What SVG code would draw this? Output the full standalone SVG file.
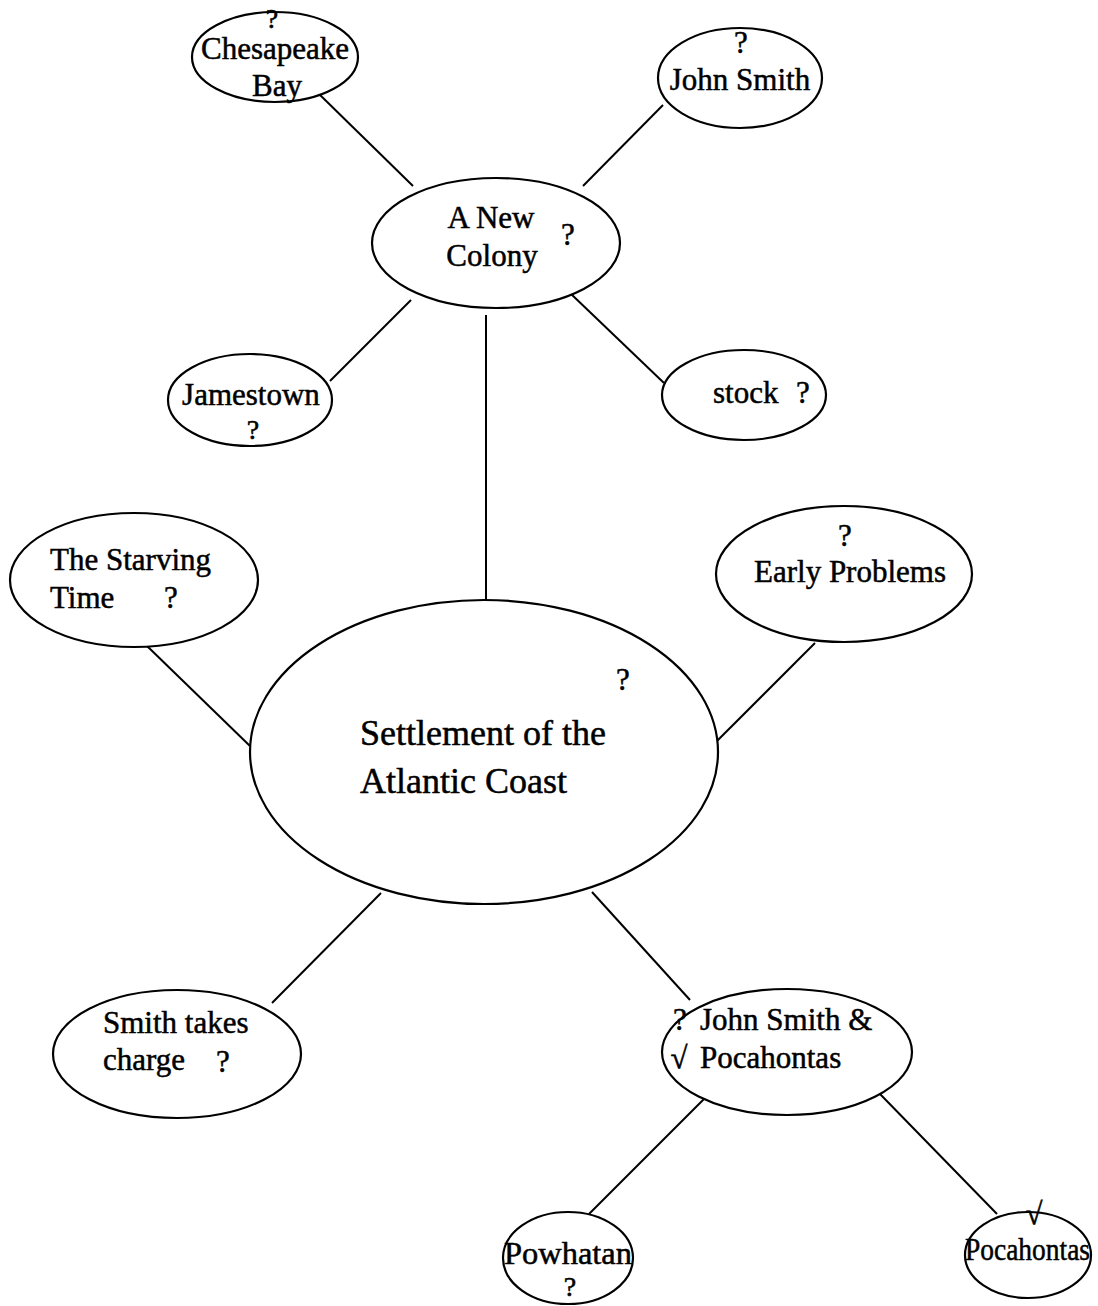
<svg xmlns="http://www.w3.org/2000/svg" width="1098" height="1306" viewBox="0 0 1098 1306">
<style>
.n{fill:#fff;stroke:#000;stroke-width:2.2}
.c line{stroke:#000;stroke-width:2}
text{font-family:"Liberation Serif","Times New Roman",serif;font-size:31px;fill:#000;stroke:#000;stroke-width:0.5}
.m{text-anchor:middle}
.big{font-size:36px}
.q{font-size:28px}
</style>
<rect width="1098" height="1306" fill="#fff"/>
<g class="c" id="connectors">
<line x1="318" y1="93" x2="413" y2="186"/>
<line x1="663" y1="105" x2="583" y2="186"/>
<line x1="330" y1="381" x2="411" y2="300"/>
<line x1="570" y1="293" x2="664" y2="383"/>
<line x1="486" y1="315" x2="486" y2="606"/>
<line x1="146" y1="645" x2="250" y2="746"/>
<line x1="815" y1="643" x2="715" y2="743"/>
<line x1="381" y1="893" x2="272" y2="1003"/>
<line x1="592" y1="892" x2="690" y2="1000"/>
<line x1="707" y1="1096" x2="589" y2="1214"/>
<line x1="880" y1="1094" x2="997" y2="1214"/>
</g>
<g id="chesapeake">
<ellipse class="n" cx="275" cy="57" rx="83" ry="45"/>
<text class="m q" x="272" y="28">?</text>
<text class="m" x="275" y="59">Chesapeake</text>
<text class="m" x="277" y="96">Bay</text>
</g>
<g id="johnsmith">
<ellipse class="n" cx="740" cy="78" rx="82" ry="50"/>
<text class="m" x="741" y="53">?</text>
<text class="m" x="740" y="90">John Smith</text>
</g>
<g id="newcolony">
<ellipse class="n" cx="496" cy="243" rx="124" ry="65"/>
<text class="m" x="491" y="228">A New</text>
<text class="m" x="492" y="266">Colony</text>
<text class="m" x="568" y="245">?</text>
</g>
<g id="jamestown">
<ellipse class="n" cx="250" cy="400" rx="82" ry="46"/>
<text class="m" x="251" y="405">Jamestown</text>
<text class="m q" x="253" y="439">?</text>
</g>
<g id="stock">
<ellipse class="n" cx="744" cy="395" rx="82" ry="45"/>
<text x="713" y="403">stock</text>
<text class="m" x="803" y="403">?</text>
</g>
<g id="starving">
<ellipse class="n" cx="134" cy="580" rx="124" ry="67"/>
<text x="50" y="570">The Starving</text>
<text x="50" y="608">Time</text>
<text class="m" x="171" y="608">?</text>
</g>
<g id="earlyproblems">
<ellipse class="n" cx="844" cy="574" rx="128" ry="68"/>
<text class="m" x="845" y="546">?</text>
<text class="m" x="850" y="582">Early Problems</text>
</g>
<g id="settlement">
<ellipse class="n" cx="484" cy="752" rx="234" ry="152"/>
<text class="m" x="623" y="690">?</text>
<text class="big" x="360" y="745">Settlement of the</text>
<text class="big" x="360" y="793">Atlantic Coast</text>
</g>
<g id="smithtakes">
<ellipse class="n" cx="177" cy="1054" rx="124" ry="64"/>
<text x="103" y="1033">Smith takes</text>
<text x="103" y="1070">charge</text>
<text class="m" x="223" y="1072">?</text>
</g>
<g id="jsp">
<ellipse class="n" cx="787" cy="1052" rx="125" ry="63"/>
<text class="m" x="680" y="1030">?</text>
<text x="700" y="1030">John Smith &amp;</text>
<text class="m" x="679" y="1068">√</text>
<text x="700" y="1068">Pocahontas</text>
</g>
<g id="powhatan">
<ellipse class="n" cx="568" cy="1258" rx="65" ry="46"/>
<text class="m" x="568" y="1264" textLength="128" lengthAdjust="spacingAndGlyphs">Powhatan</text>
<text class="m q" x="570" y="1296">?</text>
</g>
<g id="pocahontas">
<ellipse class="n" cx="1028" cy="1255" rx="63" ry="43"/>
<text class="m" x="1034" y="1224">√</text>
<text x="965" y="1260" textLength="125" lengthAdjust="spacingAndGlyphs">Pocahontas</text>
</g>
</svg>
